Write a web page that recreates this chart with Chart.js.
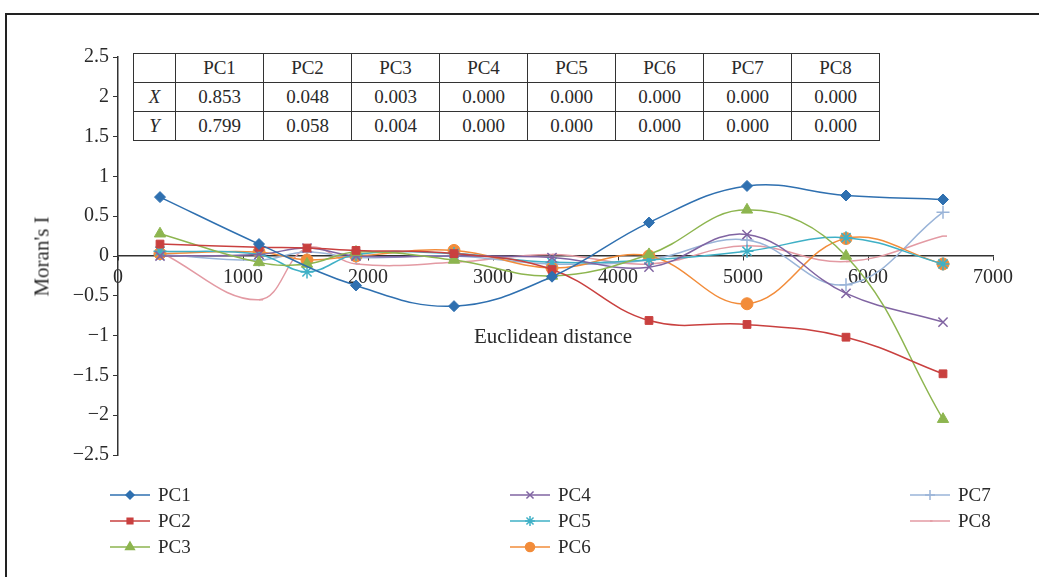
<!DOCTYPE html>
<html>
<head>
<meta charset="utf-8">
<script src="https://cdn.jsdelivr.net/npm/chart.js@4.4.0/dist/chart.umd.min.js"></script>
<style>
  body { margin: 0; background: #fff; font-family: "Liberation Serif", serif; color: #2a2a2a; }
  #wrap { position: relative; width: 1039px; height: 577px; overflow: hidden; }
  #frame { position: absolute; left: 5px; top: 13px; width: 1100px; height: 600px; border-top: 2px solid #222; border-left: 2px solid #222; }
  #chart { position: absolute; left: 0; top: 0; }
  #tbl { position: absolute; left: 133px; top: 53px; border-collapse: collapse; font-size: 19px; background: #fff; }
  #tbl td { border: 1px solid #333; height: 28px; padding: 0; text-align: center; width: 87px; }
  #tbl td.h { width: 41px; font-style: italic; }
  .ttl { position: absolute; font-size: 21px; color: #2a2a2a; white-space: nowrap; }
  .leg { position: absolute; font-size: 19px; display: flex; align-items: center; }
  .leg canvas { margin-right: 8px; }
</style>
</head>
<body>
<div id="wrap">
  <div id="frame"></div>
  <canvas id="chart" width="1039" height="577"></canvas>
  <table id="tbl"></table>
  <div class="ttl" style="left:0;top:244px;width:84px;text-align:center;transform:rotate(-90deg);">Moran's I</div>
  <div class="ttl" style="left:453px;top:324px;width:200px;text-align:center;">Euclidean distance</div>
  <div id="legend"></div>
</div>
<script>
// distances of the lag classes
const distances = [336, 1128, 1512, 1904, 2688, 3472, 4248, 5032, 5824, 6600];
const seriesNames = ['PC1', 'PC2', 'PC3', 'PC4', 'PC5', 'PC6', 'PC7', 'PC8'];
const pc1 = [0.74, 0.15, null, -0.37, -0.63, -0.26, 0.42, 0.88, 0.76, 0.71];
const pc2 = [0.15, 0.11, 0.10, 0.07, 0.03, -0.17, -0.81, -0.86, -1.02, -1.48];
const pc3 = [0.28, -0.08, -0.10, 0.05, -0.05, -0.25, 0.02, 0.58, 0.0, -2.05];
const pc4 = [0.0, 0.02, 0.10, 0.0, 0.0, -0.02, -0.14, 0.27, -0.47, -0.83];
const pc5 = [0.06, 0.02, -0.20, 0.02, 0.03, -0.08, -0.05, 0.06, 0.23, -0.10];
const pc6 = [0.03, 0.05, -0.05, 0.0, 0.07, -0.15, 0.0, -0.60, 0.22, -0.10];
const pc7 = [0.02, -0.05, 0.05, -0.02, 0.0, -0.10, -0.05, 0.20, -0.36, 0.55];
const pc8 = [0.05, -0.55, 0.10, -0.10, -0.08, 0.02, -0.10, 0.13, -0.07, 0.25];
// table values
const tableX = ['0.853', '0.048', '0.003', '0.000', '0.000', '0.000', '0.000', '0.000'];
const tableY = ['0.799', '0.058', '0.004', '0.000', '0.000', '0.000', '0.000', '0.000'];
const yTicks = [-2.5, -2, -1.5, -1, -0.5, 0, 0.5, 1, 1.5, 2, 2.5];

const allValues = [pc1, pc2, pc3, pc4, pc5, pc6, pc7, pc8];
const colors = ['#2f70b0', '#c9403f', '#8db54f', '#8064a2', '#3fb0c6', '#f28c3a', '#9ab4d8', '#e39aa3'];
const styles = ['rectRot', 'rect', 'triangle', 'crossRot', 'star', 'circle', 'cross', 'dash'];
const radii = [5.5, 5.5, 6.5, 6.5, 6.5, 6, 6.5, 4];

// table
let tbl = document.getElementById('tbl');
let html = '<tr><td class="h"></td>' + seriesNames.map(n => '<td>' + n + '</td>').join('') + '</tr>';
html += '<tr><td class="h">X</td>' + tableX.map(v => '<td>' + v + '</td>').join('') + '</tr>';
html += '<tr><td class="h">Y</td>' + tableY.map(v => '<td>' + v + '</td>').join('') + '</tr>';
tbl.innerHTML = html;

const datasets = seriesNames.map((name, i) => ({
  label: name,
  data: distances.map((d, j) => ({ x: d, y: allValues[i][j] })).filter(p => p.y !== null),
  borderColor: colors[i],
  backgroundColor: colors[i],
  borderWidth: 1.5,
  pointStyle: styles[i],
  pointRadius: radii[i],
  pointBorderWidth: (styles[i] === 'crossRot' || styles[i] === 'star' || styles[i] === 'cross' || styles[i] === 'dash') ? 1.5 : 1,
  tension: 0.4,
  fill: false
}));

const ctx = document.getElementById('chart').getContext('2d');
new Chart(ctx, {
  type: 'line',
  data: { datasets: datasets },
  options: {
    responsive: false,
    animation: false,
    layout: { padding: { left: 58, top: 57, right: 46, bottom: 122 } },
    plugins: { legend: { display: false }, tooltip: { enabled: false } },
    scales: {
      x: {
        type: 'linear',
        min: 0, max: 7000,
        position: { y: 0 },
        ticks: {
          stepSize: 1000, color: '#2a2a2a', padding: 6,
          font: { family: 'Liberation Serif', size: 20 },
          callback: v => String(v)
        },
        grid: { drawOnChartArea: false, drawTicks: true, tickLength: 4, color: '#333' },
        border: { color: '#333', width: 1.5 }
      },
      y: {
        min: -2.5, max: 2.5,
        afterFit: s => { s.width = 60; },
        afterBuildTicks: s => { s.ticks = yTicks.map(v => ({ value: v })); },
        ticks: {
          color: '#2a2a2a',
          font: { family: 'Liberation Serif', size: 20 },
          padding: 4,
          callback: v => (v < 0 ? '\u2212' + Math.abs(v) : String(v))
        },
        grid: { drawOnChartArea: false, drawTicks: true, tickLength: 5, color: '#333' },
        border: { color: '#333', width: 1.5 }
      }
    }
  }
});

// legend, three columns, column-major
const legCols = [110, 510, 910];
const legRows = [495, 521, 547];
const legend = document.getElementById('legend');
seriesNames.forEach((name, i) => {
  const col = Math.floor(i / 3), row = i % 3;
  const item = document.createElement('div');
  item.className = 'leg';
  item.style.left = legCols[col] + 'px';
  item.style.top = (legRows[row] - 12) + 'px';
  const c = document.createElement('canvas');
  c.width = 40; c.height = 24;
  const g = c.getContext('2d');
  g.strokeStyle = colors[i];
  g.lineWidth = 1.5;
  g.beginPath(); g.moveTo(0, 12); g.lineTo(40, 12); g.stroke();
  g.fillStyle = colors[i];
  if (Chart.helpers && Chart.helpers.drawPoint) {
    Chart.helpers.drawPoint(g, { pointStyle: styles[i], radius: radii[i] - 1.5, borderWidth: 1.5 }, 20, 12);
  }
  item.appendChild(c);
  const t = document.createElement('span');
  t.textContent = name;
  item.appendChild(t);
  legend.appendChild(item);
});
</script>
</body>
</html>
